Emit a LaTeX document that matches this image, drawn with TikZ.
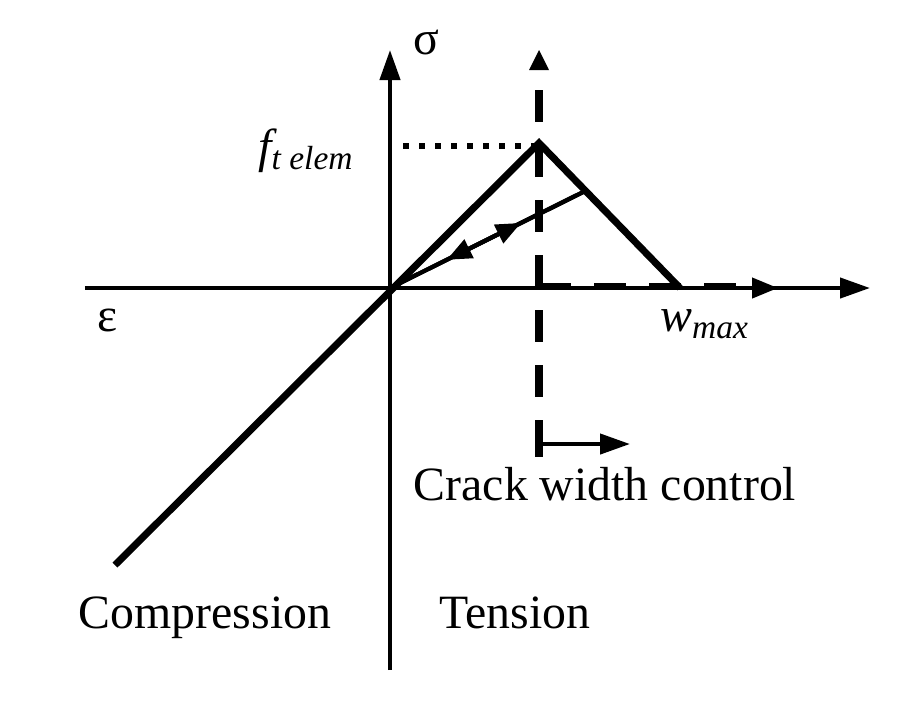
\documentclass[tikz,border=0pt]{standalone}
\usepackage{fontspec}
\setmainfont{Liberation Serif}
\usetikzlibrary{arrows.meta,calc}

\tikzset{
  axis/.style={line width=1.2pt,-{Triangle[length=0.3cm,width=0.2cm]}},
  curve/.style={line width=2pt},
  crack/.style={line width=2pt,dash pattern=on 0.32cm off 0.23cm},
  lbl/.style={font=\fontsize{13.6pt}{16pt}\selectfont,inner sep=0pt,anchor=base}
}

\begin{document}
\begin{tikzpicture}
  \useasboundingbox (-3.9,-4.18) rectangle (5.2,2.88);
  % points of the law
  \coordinate (O) at (0,0);
  \coordinate (peak) at (1.49,1.45);
  \coordinate (wend) at (2.90,0);
  \coordinate (cend) at (-2.75,-2.77);
  \coordinate (unl) at ($(peak)!0.33!(wend)$);
  % axes
  \draw[axis] (-3.05,0) -- (4.8,0);
  \draw[axis] (0,-3.82) -- (0,2.38);
  % crack axes
  \draw[crack] (1.49,1.98) -- (1.49,-1.67);
  \fill (1.49,2.38) -- (1.39,2.18) -- (1.59,2.18) -- cycle;
  \draw[crack] (1.49,0.02) -- (3.50,0.02);
  \draw[line width=1.2pt,-{Triangle[length=0.26cm,width=0.2cm]}] (3.45,0) -- (3.88,0);
  \draw[line width=0.06cm,dash pattern=on 0.06cm off 0.1cm] (0.13,1.42) -- (1.49,1.42);
  % stress-strain line
  \draw[curve] (cend) -- (peak) -- (wend);
  % unloading
  \draw[line width=1.2pt] (O) -- (unl);
  \draw[line width=1.2pt,-{Triangle[length=0.25cm,width=0.2cm]}] (O) -- ($(O)!0.67!(unl)$);
  \draw[line width=1.2pt,-{Triangle[length=0.25cm,width=0.2cm]}] (unl) -- ($(O)!0.29!(unl)$);
  % crack width control arrow
  \draw[line width=2pt] (1.49,-1.37) -- (1.49,-1.69);
  \draw[line width=1.2pt,-{Triangle[length=0.3cm,width=0.2cm]}] (1.49,-1.56) -- (2.40,-1.56);
  % labels
  \node[lbl] (sig) at (0.36,2.34) {σ};
  \node[lbl,anchor=base east] (ft) at (-0.35,1.26) {\itshape f\textsubscript{t elem}};
  \node[lbl] (eps) at (-2.82,-0.43) {ε};
  \node[lbl] (wmax) at (3.15,-0.43) {\itshape w\textsubscript{max}};
  \node[lbl] (ctl) at (2.15,-2.12) {Crack width control};
  \node[lbl] (comp) at (-1.85,-3.40) {Compression};
  \node[lbl] (tens) at (1.25,-3.40) {Tension};
\end{tikzpicture}
\end{document}
